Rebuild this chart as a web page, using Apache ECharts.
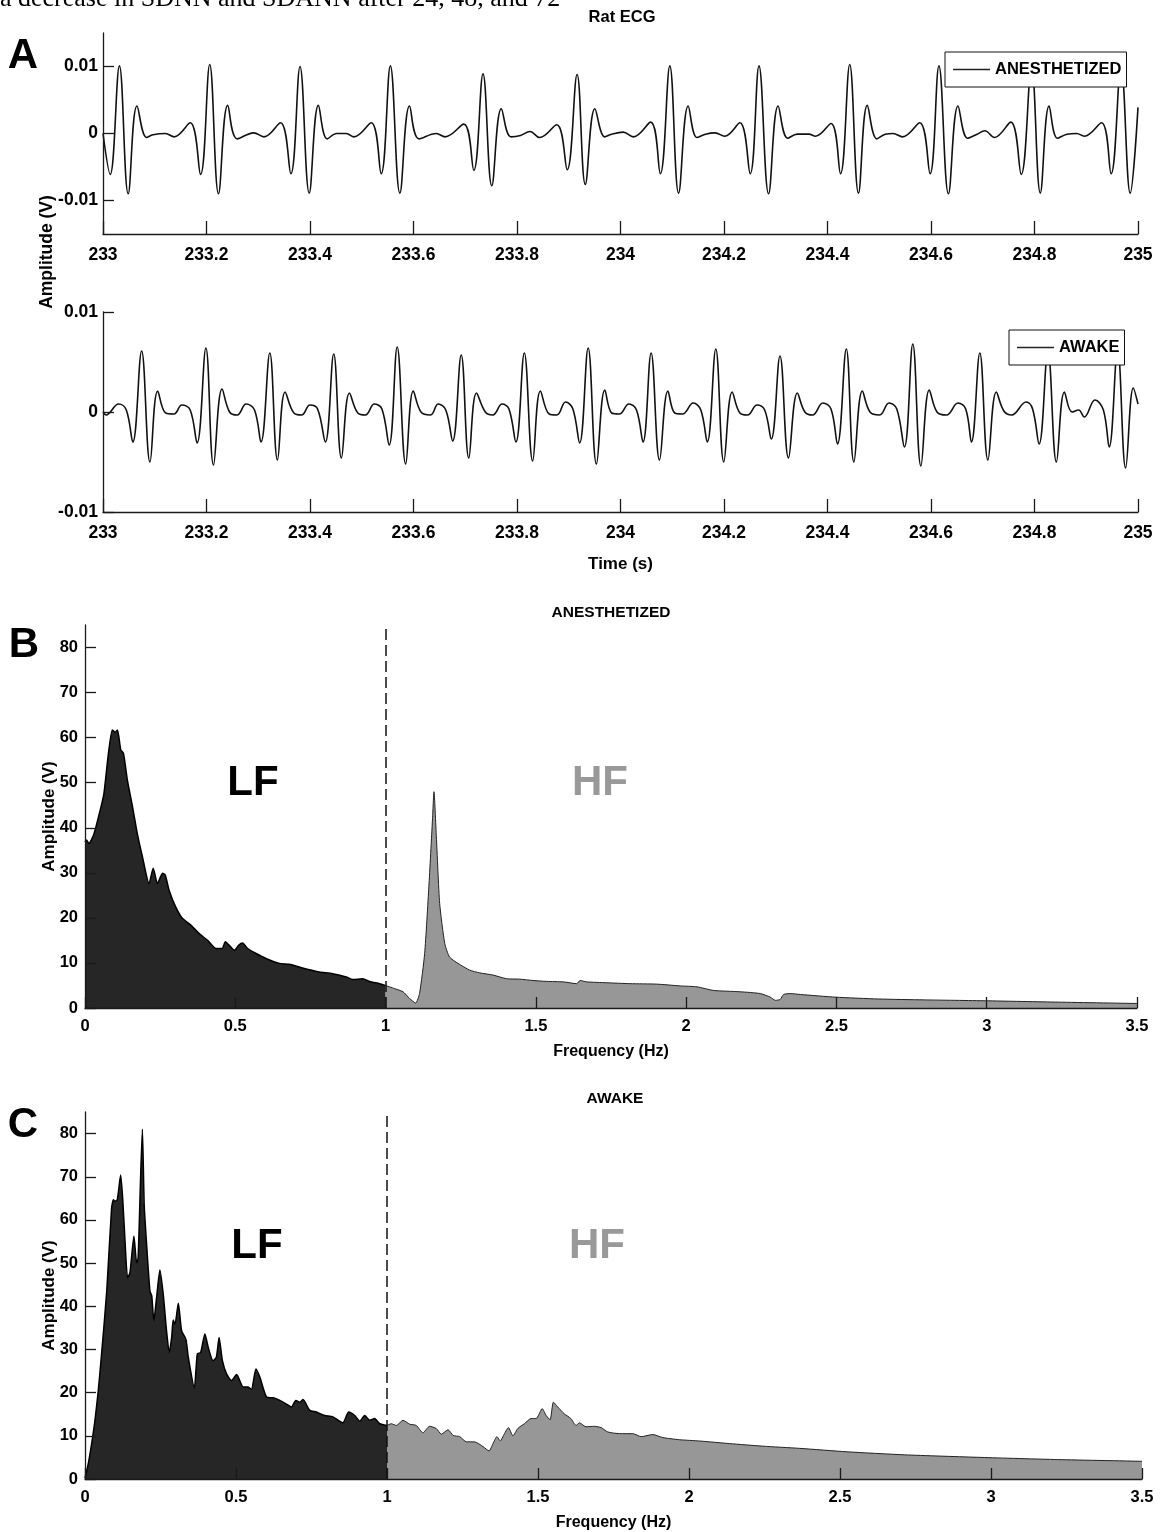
<!DOCTYPE html>
<html>
<head>
<meta charset="utf-8">
<script src="https://cdn.jsdelivr.net/npm/echarts@6/dist/echarts.min.js"></script>
<style>
html,body{margin:0;padding:0;background:#fff;}
#chart{width:1161px;height:1532px;}
</style>
</head>
<body>
<div id="chart"></div>
<script>
// ---------- DATA ----------
// Panel A: ECG traces [time (s), amplitude (V)]
var ecgAnesthetized = [
[233.000,0.0000],[233.0139,-0.0061],[233.0317,0.0101],[233.0487,-0.0090],[233.0657,0.0041],[233.0842,-0.0006],[233.0967,-0.0002],[233.1204,0.0000],[233.1374,-0.0005],[233.1685,0.0016],
[233.1885,-0.0061],[233.2062,0.0103],[233.2232,-0.0090],[233.2410,0.0042],[233.2595,-0.0008],[233.2912,0.0001],[233.3110,-0.0005],[233.3430,0.0016],
[233.3630,-0.0060],[233.3807,0.0100],[233.3985,-0.0089],[233.4162,0.0042],[233.4333,-0.0008],[233.4518,0.0000],[233.4702,0.0000],[233.4850,-0.0005],[233.5183,0.0016],
[233.5375,-0.0060],[233.5553,0.0101],[233.5737,-0.0089],[233.5923,0.0041],[233.6108,-0.0008],[233.6441,0.0000],[233.6610,-0.0005],[233.6972,0.0014],
[233.7165,-0.0055],[233.7343,0.0089],[233.7513,-0.0078],[233.7697,0.0037],[233.7882,-0.0005],[233.8068,-0.0003],[233.8251,0.0003],[233.8437,-0.0006],[233.8769,0.0013],
[233.8970,-0.0054],[233.9161,0.0088],[233.9320,-0.0076],[233.9505,0.0037],[233.9696,-0.0005],[233.9830,-0.0001],[234.0050,0.0002],[234.0250,-0.0005],[234.0583,0.0017],
[234.0769,-0.0060],[234.0953,0.0101],[234.1123,-0.0089],[234.1308,0.0041],[234.1478,-0.0006],[234.1641,-0.0001],[234.1826,0.0001],[234.2012,-0.0004],[234.2307,0.0016],
[234.2506,-0.0060],[234.2676,0.0101],[234.2862,-0.0090],[234.3046,0.0041],[234.3231,-0.0007],[234.3417,-0.0001],[234.3639,-0.0001],[234.3770,-0.0004],[234.4068,0.0015],
[234.4251,-0.0060],[234.4429,0.0103],[234.4599,-0.0089],[234.4769,0.0042],[234.4954,-0.0008],[234.5117,-0.0001],[234.5266,0.0000],[234.5450,-0.0005],[234.5782,0.0016],
[234.5982,-0.0060],[234.6153,0.0101],[234.6337,-0.0090],[234.6522,0.0041],[234.6707,-0.0007],[234.6891,-0.0001],[234.7040,0.0004],[234.7225,-0.0006],[234.7542,0.0017],
[234.7743,-0.0061],[234.7942,0.0100],[234.8112,-0.0089],[234.8282,0.0041],[234.8444,-0.0007],[234.8630,-0.0001],[234.8813,0.0000],[234.8962,-0.0004],[234.9295,0.0016],
[234.9480,-0.0060],[234.9671,0.0101],[234.9849,-0.0089],[235.0000,0.0039]
];
var ecgAwake = [
[233.000,0.0000],[233.0060,-0.0003],[233.0302,0.0008],[233.0450,0.0002],[233.0576,-0.0030],[233.0746,0.0061],[233.0908,-0.0050],[233.1057,0.0021],[233.1212,-0.0001],[233.1374,-0.0002],[233.1522,0.0007],[233.1685,0.0002],
[233.1818,-0.0031],[233.1988,0.0064],[233.2135,-0.0053],[233.2300,0.0023],[233.2446,0.0000],[233.2595,-0.0003],[233.2765,0.0008],[233.2928,0.0002],
[233.3053,-0.0030],[233.3223,0.0059],[233.3372,-0.0048],[233.3519,0.0020],[233.3689,-0.0001],[233.3838,-0.0003],[233.4000,0.0007],[233.4147,0.0003],
[233.4296,-0.0030],[233.4458,0.0058],[233.4607,-0.0046],[233.4762,0.0019],[233.4924,-0.0001],[233.5072,-0.0003],[233.5242,0.0008],[233.5390,0.0003],
[233.5530,-0.0033],[233.5685,0.0065],[233.5849,-0.0052],[233.5996,0.0021],[233.6145,0.0000],[233.6329,-0.0003],[233.6477,0.0008],[233.6624,0.0002],
[233.6757,-0.0029],[233.6922,0.0057],[233.7069,-0.0046],[233.7217,0.0019],[233.7387,0.0000],[233.7534,-0.0003],[233.7712,0.0008],[233.7845,0.0003],
[233.7979,-0.0030],[233.8141,0.0059],[233.8303,-0.0049],[233.8452,0.0021],[233.8622,-0.0002],[233.8769,-0.0003],[233.8939,0.0010],[233.9080,0.0003],
[233.9210,-0.0031],[233.9375,0.0064],[233.9535,-0.0052],[233.9697,0.0022],[233.9830,-0.0001],[233.9977,-0.0002],[234.0162,0.0008],[234.0309,0.0002],
[234.0435,-0.0030],[234.0591,0.0059],[234.0754,-0.0048],[234.0916,0.0021],[234.1049,-0.0001],[234.1198,-0.0002],[234.1405,0.0009],[234.1552,0.0002],
[234.1677,-0.0030],[234.1841,0.0063],[234.1996,-0.0050],[234.2158,0.0020],[234.2307,-0.0001],[234.2454,-0.0003],[234.2639,0.0007],[234.2786,0.0002],
[234.2914,-0.0027],[234.3082,0.0056],[234.3246,-0.0046],[234.3417,0.0019],[234.3563,0.0000],[234.3712,-0.0003],[234.3911,0.0009],[234.4068,0.0003],
[234.4193,-0.0032],[234.4363,0.0063],[234.4510,-0.0050],[234.4673,0.0021],[234.4821,0.0000],[234.5007,-0.0003],[234.5190,0.0009],[234.5339,0.0003],
[234.5486,-0.0035],[234.5648,0.0068],[234.5805,-0.0054],[234.5967,0.0022],[234.6116,0.0000],[234.6300,-0.0003],[234.6522,0.0009],[234.6671,0.0003],
[234.6781,-0.0030],[234.6943,0.0059],[234.7100,-0.0048],[234.7262,0.0020],[234.7409,0.0001],[234.7558,-0.0003],[234.7838,0.0010],[234.7963,0.0003],
[234.8089,-0.0032],[234.8259,0.0061],[234.8423,-0.0050],[234.8578,0.0020],[234.8725,0.0000],[234.8852,0.0002],[234.8962,-0.0005],[234.9169,0.0012],[234.9331,0.0002],
[234.9443,-0.0035],[234.9606,0.0063],[234.9761,-0.0056],[234.9909,0.0024],[235.0000,0.0008]
];
// Panel B: ANESTHETIZED spectrum [frequency (Hz), amplitude]
var specAnesLF = [
[0,36.8],[0.005,37.3],[0.013,36.5],[0.03,38.7],[0.052,44.3],[0.063,47.6],[0.078,56.5],[0.091,61.7],[0.1,61.2],[0.108,61.7],[0.119,57.3],[0.128,56.5],[0.141,50.6],[0.158,44.7],[0.174,38.7],[0.191,33.6],[0.213,27.6],[0.227,31.0],[0.241,27.6],[0.258,29.9],[0.267,29.5],[0.28,26.1],[0.302,22.4],[0.324,19.9],[0.352,18.4],[0.38,16.5],[0.408,15.0],[0.436,13.2],[0.456,13.2],[0.467,14.7],[0.48,13.9],[0.497,12.8],[0.511,13.9],[0.524,14.4],[0.541,13.2],[0.569,12.1],[0.602,11.0],[0.647,9.9],[0.68,9.7],[0.713,9.1],[0.747,8.5],[0.78,8.0],[0.824,7.6],[0.869,6.9],[0.891,6.3],[0.924,6.5],[0.947,5.9],[0.98,5.4],[1.0,5.0]
];
var specAnesHF = [
[1.0,5.0],[1.03,4.3],[1.058,3.6],[1.08,2.1],[1.1,1.1],[1.113,3.2],[1.13,12.1],[1.144,26.9],[1.156,41.7],[1.161,48.0],[1.169,38.0],[1.18,23.2],[1.197,14.3],[1.213,11.3],[1.241,9.9],[1.28,8.4],[1.313,7.8],[1.358,7.3],[1.402,6.5],[1.447,6.4],[1.491,6.1],[1.536,5.9],[1.591,5.8],[1.636,5.4],[1.647,6.1],[1.669,5.8],[1.736,5.6],[1.813,5.4],[1.902,5.3],[1.98,4.9],[2.036,4.7],[2.091,3.9],[2.18,3.6],[2.247,3.2],[2.28,2.4],[2.297,1.7],[2.313,1.9],[2.324,3.0],[2.347,3.2],[2.38,3.0],[2.498,2.4],[2.639,2.0],[2.792,1.8],[2.996,1.6],[3.238,1.3],[3.5,1.0]
];
// Panel C: AWAKE spectrum
var specAwakeLF = [
[0,0.2],[0.011,3.6],[0.022,8.2],[0.033,13.6],[0.044,20.5],[0.055,29.0],[0.072,43.5],[0.088,62.7],[0.094,64.7],[0.099,64.3],[0.107,64.7],[0.118,70.4],[0.125,64.7],[0.132,55.8],[0.141,46.6],[0.149,47.8],[0.162,56.2],[0.171,50.1],[0.176,51.2],[0.19,81.0],[0.196,63.5],[0.204,54.3],[0.215,43.5],[0.221,42.4],[0.228,36.6],[0.237,42.0],[0.248,48.4],[0.259,42.8],[0.27,34.3],[0.279,29.3],[0.287,32.8],[0.292,36.8],[0.298,35.9],[0.309,40.7],[0.32,34.3],[0.334,32.4],[0.342,28.2],[0.362,21.1],[0.372,29.0],[0.383,29.3],[0.397,33.6],[0.408,30.5],[0.424,27.4],[0.435,28.2],[0.444,32.8],[0.455,27.4],[0.469,24.3],[0.485,22.8],[0.502,24.2],[0.524,21.3],[0.54,21.3],[0.551,20.7],[0.566,25.5],[0.579,23.6],[0.601,19.0],[0.623,18.8],[0.645,18.2],[0.673,17.1],[0.684,16.7],[0.698,18.2],[0.711,17.8],[0.722,18.4],[0.744,15.9],[0.766,15.5],[0.794,14.7],[0.821,14.4],[0.854,13.0],[0.873,15.5],[0.893,14.7],[0.91,13.4],[0.926,14.7],[0.943,13.6],[0.959,14.0],[0.976,12.8],[1.0,12.4]
];
var specAwakeHF = [
[1.0,12.4],[1.014,12.8],[1.031,12.4],[1.053,13.6],[1.075,12.7],[1.097,12.4],[1.119,10.7],[1.141,12.2],[1.163,11.7],[1.18,10.4],[1.202,11.4],[1.219,10.1],[1.241,9.8],[1.263,8.6],[1.29,8.6],[1.318,7.5],[1.338,6.5],[1.351,8.2],[1.364,9.8],[1.375,8.8],[1.386,10.1],[1.402,11.9],[1.417,10.0],[1.433,11.7],[1.455,12.8],[1.477,14.0],[1.494,14.0],[1.514,16.3],[1.527,14.7],[1.54,13.7],[1.551,17.8],[1.565,16.7],[1.587,15.1],[1.609,14.0],[1.626,12.4],[1.637,13.0],[1.659,12.1],[1.687,12.2],[1.709,11.9],[1.731,10.9],[1.77,10.5],[1.814,10.5],[1.842,9.8],[1.88,10.3],[1.913,9.6],[1.968,9.1],[2.035,8.8],[2.134,8.2],[2.245,7.6],[2.366,7.1],[2.523,6.3],[2.713,5.6],[2.967,5.0],[3.22,4.5],[3.5,4.1]
];
var ecgYTicks = [-0.01, 0, 0.01];
var specYTicks = [0, 10, 20, 30, 40, 50, 60, 70, 80];
var bandBoundary = 1;

// ---------- STYLE ----------
var SANS = '"Liberation Sans",Arial,sans-serif';
var AX = '#1a1a1a';

function axisCommon(tickLen, labelSize, labelMargin) {
  return {
    axisLine: {show: true, onZero: false, lineStyle: {color: AX, width: 1.3}},
    axisTick: {show: true, inside: true, length: tickLen, lineStyle: {color: AX, width: 1.3}},
    splitLine: {show: false},
    axisLabel: {color: '#000', fontWeight: 'bold', fontFamily: SANS, fontSize: labelSize, margin: labelMargin}
  };
}
function merge(a, b) { for (var k in b) a[k] = b[k]; return a; }

var chart = echarts.init(document.getElementById('chart'), null, {renderer: 'canvas'});

var ecgX = function (gi, name) {
  var o = merge(axisCommon(13, 17.5, 12), {
    type: 'value', gridIndex: gi, min: 233, max: 235, interval: 0.2, z: 5
  });
  o.axisLabel.formatter = function (v) { return String(+v.toFixed(1)); };
  if (name) {
    o.name = name; o.nameLocation = 'middle'; o.nameGap = 44;
    o.nameTextStyle = {fontWeight: 'bold', fontFamily: SANS, fontSize: 17, color: '#000'};
  }
  return o;
};
var ecgY = function (gi, mn, mx) {
  var o = merge(axisCommon(11, 17.5, 5), {
    type: 'value', gridIndex: gi, min: mn, max: mx, z: 5
  });
  o.axisLabel.customValues = ecgYTicks;
  o.axisTick.customValues = ecgYTicks;
  o.axisLabel.formatter = function (v) { return v === 0 ? '0' : String(+v.toFixed(2)); };
  return o;
};
var specX = function (gi) {
  var o = merge(axisCommon(11, 16.5, 10), {
    type: 'value', gridIndex: gi, min: 0, max: 3.5, interval: 0.5, z: 5,
    name: 'Frequency (Hz)', nameLocation: 'middle', nameGap: 36,
    nameTextStyle: {fontWeight: 'bold', fontFamily: SANS, fontSize: 16, color: '#000'}
  });
  o.axisLabel.formatter = function (v) { return String(+v.toFixed(1)); };
  return o;
};
var specY = function (gi) {
  var o = merge(axisCommon(11, 16.5, 7), {
    type: 'value', gridIndex: gi, min: 0, max: 85, z: 5,
    name: 'Amplitude (V)', nameLocation: 'middle', nameGap: 27, nameRotate: 90,
    nameMoveOverlap: false,
    nameTextStyle: {fontWeight: 'bold', fontFamily: SANS, fontSize: 17, color: '#000'}
  });
  o.axisLabel.customValues = specYTicks;
  o.axisTick.customValues = specYTicks;
  return o;
};

function ecgSeries(name, data, xi) {
  return {
    name: name, type: 'line', xAxisIndex: xi, yAxisIndex: xi, data: data,
    smooth: 0.4, symbol: 'none', showSymbol: false,
    lineStyle: {color: '#111', width: 1.6}, itemStyle: {color: '#111'}, z: 2
  };
}
function lfSeries(data, xi) {
  return {
    name: 'LF' + xi, type: 'line', xAxisIndex: xi, yAxisIndex: xi, data: data,
    smooth: 0.2, symbol: 'none', showSymbol: false,
    lineStyle: {color: '#000', width: 1.5},
    areaStyle: {color: '#262626', opacity: 1}, z: 2
  };
}
function hfSeries(data, xi) {
  return {
    name: 'HF' + xi, type: 'line', xAxisIndex: xi, yAxisIndex: xi, data: data,
    smooth: 0.2, symbol: 'none', showSymbol: false,
    lineStyle: {color: '#222', width: 1},
    areaStyle: {color: '#979797', opacity: 1}, z: 2,
    markLine: {
      silent: true, symbol: ['none', 'none'], label: {show: false},
      lineStyle: {color: '#111', type: [11, 5], width: 1.5},
      data: [{xAxis: bandBoundary}]
    }
  };
}

function txt(x, y, text, font, color, align, extra) {
  var g = {
    type: 'text', x: x, y: y, silent: true, z: 10,
    style: {text: text, font: font, fill: color || '#000', textAlign: align || 'center', textVerticalAlign: 'middle'}
  };
  if (extra) merge(g, extra);
  return g;
}

var legendCommon = {
  orient: 'horizontal', selectedMode: false, icon: 'rect', itemWidth: 37, itemHeight: 1.3,
  itemStyle: {color: '#222'},
  backgroundColor: '#fff', borderColor: '#111', borderWidth: 1, borderRadius: 0,
  textStyle: {color: '#000', fontWeight: 'bold', fontFamily: SANS, fontSize: 16.5},
  z: 6
};

var option = {
  animation: false,
  backgroundColor: '#fff',
  grid: [
    {left: 103, top: 33, width: 1035, height: 201},
    {left: 103, top: 312, width: 1035, height: 200},
    {left: 85, top: 625, width: 1052, height: 383},
    {left: 85, top: 1112, width: 1057, height: 368}
  ],
  xAxis: [ecgX(0), ecgX(1, 'Time (s)'), specX(2), specX(3)],
  yAxis: [ecgY(0, -0.015, 0.015), ecgY(1, -0.01, 0.01), specY(2), specY(3)],
  legend: [
    merge(merge({}, legendCommon), {data: ['ANESTHETIZED'], left: 945, top: 52, padding: [9, 5, 9, 8]}),
    merge(merge({}, legendCommon), {data: ['AWAKE'], left: 1009, top: 330, padding: [9, 5, 9, 8]})
  ],
  series: [
    ecgSeries('ANESTHETIZED', ecgAnesthetized, 0),
    ecgSeries('AWAKE', ecgAwake, 1),
    lfSeries(specAnesLF, 2), hfSeries(specAnesHF, 2),
    lfSeries(specAwakeLF, 3), hfSeries(specAwakeHF, 3)
  ],
  graphic: [
    {type: 'text', x: 0, y: 12, silent: true, z: 10,
     style: {text: 'a decrease in SDNN and SDANN after 24, 48, and 72', font: '26px "Liberation Serif",serif', fill: '#000', textAlign: 'left', textVerticalAlign: 'bottom'}},
    txt(622, 17, 'Rat ECG', 'bold 16.5px ' + SANS),
    txt(611, 613, 'ANESTHETIZED', 'bold 15.5px ' + SANS),
    txt(615, 1099, 'AWAKE', 'bold 15.5px ' + SANS),
    txt(23, 56, 'A', 'bold 42px ' + SANS),
    txt(24, 645, 'B', 'bold 42px ' + SANS),
    txt(23, 1125, 'C', 'bold 42px ' + SANS),
    txt(47, 252, 'Amplitude (V)', 'bold 17.5px ' + SANS, '#000', 'center', {rotation: Math.PI / 2}),
    txt(253, 783, 'LF', 'bold 42px ' + SANS, '#000'),
    txt(600, 783, 'HF', 'bold 42px ' + SANS, '#999999'),
    txt(257, 1246, 'LF', 'bold 42px ' + SANS, '#000'),
    txt(597, 1246, 'HF', 'bold 42px ' + SANS, '#999999')
  ]
};
chart.setOption(option);
</script>
</body>
</html>
